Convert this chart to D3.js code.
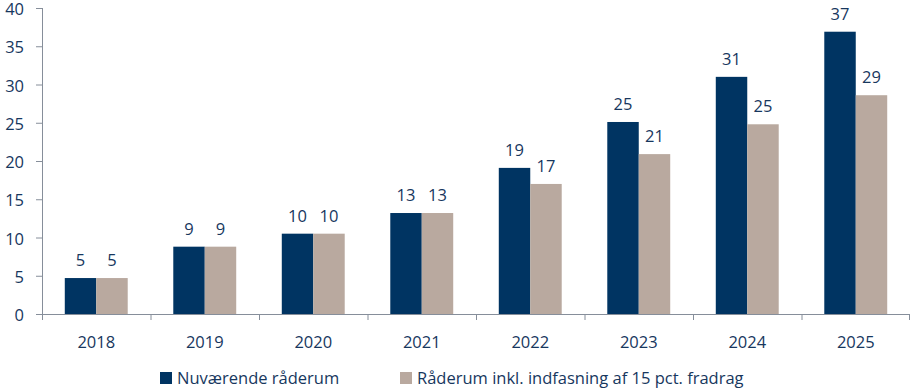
<html>
<head>
<script src="https://d3js.org/d3.v7.min.js"></script>
<style>
body { margin: 0; background: #fff; }
text { font-family: "Open Sans", sans-serif; fill: #17375e; }
</style>
</head>
<body>
<div id="chart"></div>
<script>
const years = ["2018", "2019", "2020", "2021", "2022", "2023", "2024", "2025"];
const nuvaerende = [4.7, 8.8, 10.5, 13.2, 19.1, 25.1, 31.0, 36.9];
const inklFradrag = [4.7, 8.8, 10.5, 13.2, 17.0, 20.9, 24.8, 28.6];
const labelsA = [5, 9, 10, 13, 19, 25, 31, 37];
const labelsB = [5, 9, 10, 13, 17, 21, 25, 29];
const seriesNames = ["Nuværende råderum", "Råderum inkl. indfasning af 15 pct. fradrag"];
const yTicks = [0, 5, 10, 15, 20, 25, 30, 35, 40];

const W = 916, H = 391;
const plotLeft = 42, plotRight = 910, plotTop = 8, plotBottom = 314;
const colors = ["#003462", "#b9a99f"];
const axisColor = "#868e9a";
const fs = 16.5;

const svg = d3.select("#chart").append("svg")
  .attr("width", W)
  .attr("height", H);

const x = d3.scaleBand().domain(years).range([plotLeft, plotRight]).paddingInner(0).paddingOuter(0);
const inner = d3.scaleBand().domain([0, 1]).range([0, x.bandwidth() * 0.58]);
const groupOffset = x.bandwidth() * 0.21;
const y = d3.scaleLinear().domain([0, 40]).range([plotBottom, plotTop]);

// y axis
const yAxis = svg.append("g")
  .attr("transform", `translate(${plotLeft},0)`)
  .call(d3.axisLeft(y).tickValues(yTicks).tickSize(6).tickPadding(12));
yAxis.selectAll("line, path").attr("stroke", axisColor);
yAxis.selectAll("text")
  .attr("font-size", fs)
  .attr("dy", "0.4em")
  .style("font-family", "Open Sans")
  .attr("fill", "#17375e");
yAxis.select(".domain").attr("d", `M0.5,${plotTop}V${plotBottom}`);

// bars
const series = [nuvaerende, inklFradrag];
const labels = [labelsA, labelsB];
series.forEach((vals, s) => {
  svg.append("g").selectAll("rect")
    .data(vals)
    .enter()
    .append("rect")
    .attr("x", (d, i) => x(years[i]) + groupOffset + inner(s))
    .attr("y", d => y(d))
    .attr("width", inner.bandwidth())
    .attr("height", d => y(0) - y(d))
    .attr("fill", colors[s]);

  svg.append("g").selectAll("text")
    .data(vals)
    .enter()
    .append("text")
    .attr("x", (d, i) => x(years[i]) + groupOffset + inner(s) + inner.bandwidth() / 2)
    .attr("y", d => y(d) - 12)
    .attr("text-anchor", "middle")
    .attr("font-size", fs)
    .text((d, i) => labels[s][i]);
});

// x axis
svg.append("line")
  .attr("x1", plotLeft).attr("x2", plotRight)
  .attr("y1", plotBottom + 0.5).attr("y2", plotBottom + 0.5)
  .attr("stroke", axisColor);
svg.append("g").selectAll("line")
  .data(years.concat(["end"]))
  .enter()
  .append("line")
  .attr("x1", (d, i) => i < years.length ? x(d) + 0.5 : plotRight - 0.5)
  .attr("x2", (d, i) => i < years.length ? x(d) + 0.5 : plotRight - 0.5)
  .attr("y1", plotBottom)
  .attr("y2", plotBottom + 6)
  .attr("stroke", axisColor);
svg.append("g").selectAll("text")
  .data(years)
  .enter()
  .append("text")
  .attr("x", d => x(d) + x.bandwidth() / 2)
  .attr("y", 348)
  .attr("text-anchor", "middle")
  .attr("font-size", fs)
  .text(d => d);

// legend
const legendX = [160, 400];
seriesNames.forEach((name, s) => {
  svg.append("rect")
    .attr("x", legendX[s]).attr("y", 372)
    .attr("width", 12).attr("height", 12)
    .attr("fill", colors[s]);
  svg.append("text")
    .attr("x", legendX[s] + 17).attr("y", 384)
    .attr("font-size", fs)
    .text(name);
});
</script>
</body>
</html>
